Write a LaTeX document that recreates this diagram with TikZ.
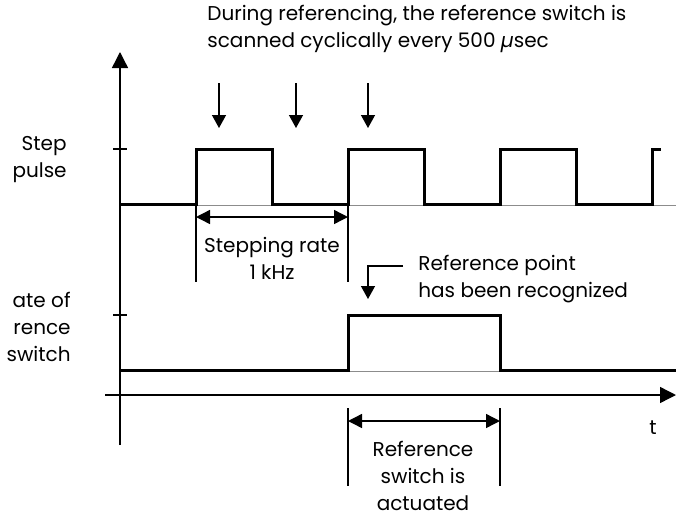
\documentclass[tikz,border=0pt]{standalone}
\usepackage{fontspec}
\setmainfont{Poppins}
\usetikzlibrary{arrows.meta}

\begin{document}
\begin{tikzpicture}[x=0.5pt,y=-0.5pt,>={Triangle[width=7pt,length=6.5pt]},
  signal/.style={line width=1.5pt,line join=miter},
  thinline/.style={line width=0.7pt},
  zeroline/.style={line width=0.5pt,black!45},
  lbl/.style={font=\fontsize{10}{13.5}\selectfont,inner sep=0pt}]
  \useasboundingbox (0,0) rectangle (676,515);
  % axes
  \coordinate (yfoot) at (120,445);
  \coordinate (ytip) at (120,52);
  \coordinate (xfoot) at (105,395);
  \coordinate (xtip) at (676,395);
  \draw[thinline,-{Triangle[width=8pt,length=8pt]}] (yfoot) -- (ytip);
  \draw[thinline,-{Triangle[width=8pt,length=8pt]}] (xfoot) -- (xtip);
  \draw[thinline] (113,149) -- (127,149);
  \draw[thinline] (113,315) -- (127,315);
  \node[lbl] (tlabel) at (653,428) {t};
  % zero lines
  \draw[zeroline] (120,205.5) -- (676,205.5);
  \draw[zeroline] (120,371.5) -- (676,371.5);
  % step pulse
  \draw[signal] (120,204) -| (196,149) -| (272,204) -| (348,149) -| (424,204)
    -| (500,149) -| (576,204) -| (652,149) -- (661,149);
  \node[lbl,anchor=east,align=right] (steptext) at (67,160) {Step\\pulse};
  % reference switch state
  \draw[signal] (120,370) -| (348,315) -| (500,370) -- (676,370);
  \node[lbl,anchor=east,align=right] (statetext) at (71,327) {ate of\\rence\\switch};
  % scanning instants
  \node[lbl,anchor=north west,align=left] (scantext) at (207,5)
    {During referencing, the reference switch is\\scanned cyclically every 500 \textit{µ}sec};
  \foreach \sx in {219,296,368}
    \draw[thinline,->] (\sx,83) -- (\sx,128);
  % stepping rate
  \coordinate (rateL) at (196,217);
  \coordinate (rateR) at (348,217);
  \draw[thinline] (196,204) -- (196,282);
  \draw[thinline] (348,204) -- (348,282);
  \draw[thinline,{Triangle[width=7pt,length=7pt]}-{Triangle[width=7pt,length=7pt]}] (rateL) -- (rateR);
  \node[lbl,align=center] (ratetext) at (272,258) {Stepping rate\\1 kHz};
  % reference point
  \node[lbl,anchor=west,align=left] (pointtext) at (418,279) {Reference point\\has been recognized};
  \coordinate (pointtip) at (368,299);
  \draw[thinline,->] (403,266) -| (pointtip);
  % actuated interval
  \coordinate (actL) at (348,421);
  \coordinate (actR) at (500,421);
  \draw[thinline] (348,408) -- (348,486);
  \draw[thinline] (500,408) -- (500,486);
  \draw[thinline,{Triangle[width=7pt,length=7pt]}-{Triangle[width=7pt,length=7pt]}] (actL) -- (actR);
  \node[lbl,align=center] (acttext) at (423,476) {Reference\\switch is\\actuated};
\end{tikzpicture}
\end{document}
